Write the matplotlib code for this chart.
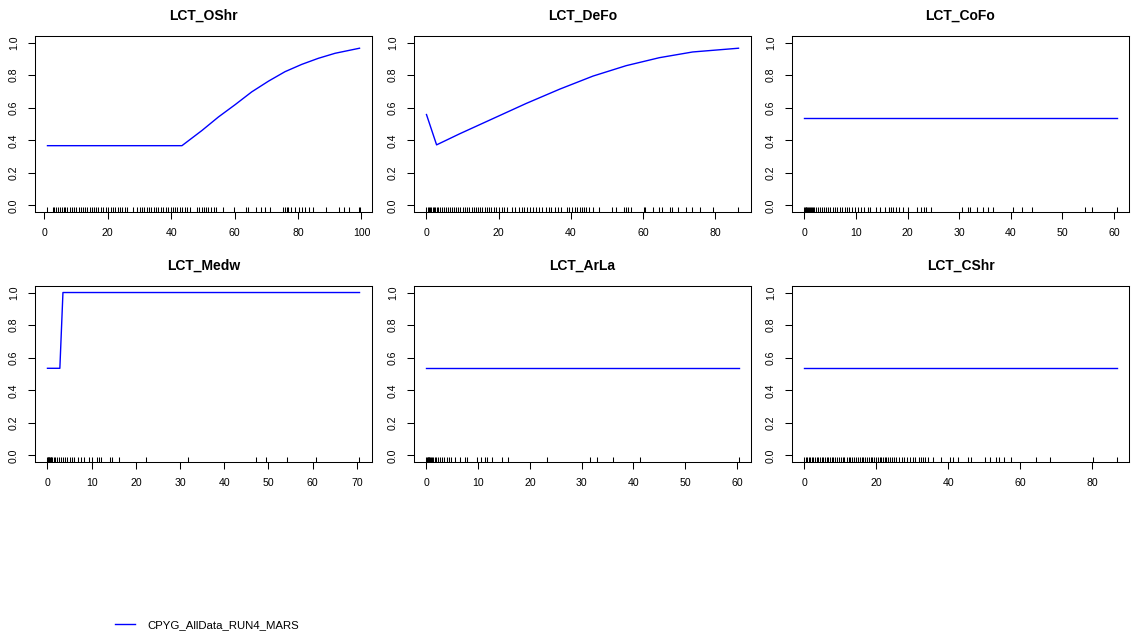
import matplotlib
matplotlib.use("Agg")
import matplotlib.pyplot as plt
import numpy as np

plt.rcParams['font.family'] = ['Liberation Sans', 'DejaVu Sans']

model_name = "CPYG_AllData_RUN4_MARS"

titles = ["LCT_OShr", "LCT_DeFo", "LCT_CoFo", "LCT_Medw", "LCT_ArLa", "LCT_CShr"]

# response curves (predictor value, predicted probability)
oshr_x = [1.0, 43.4, 49.7, 54.9, 60.2, 65.4, 70.7, 75.9, 81.2, 86.4, 91.7, 99.4]
oshr_y = [0.367, 0.367, 0.46, 0.543, 0.619, 0.697, 0.763, 0.821, 0.866, 0.903, 0.934, 0.965]

defo_x = [0.0, 2.8, 9.2, 18.4, 27.6, 36.9, 46.1, 55.3, 64.5, 73.7, 86.4]
defo_y = [0.558, 0.372, 0.44, 0.533, 0.626, 0.714, 0.794, 0.858, 0.907, 0.942, 0.965]

cofo_x = [0.0, 60.5]
cofo_y = [0.535, 0.535]

medw_x = [0.0, 2.8, 3.5, 70.6]
medw_y = [0.535, 0.535, 1.0, 1.0]

arla_x = [0.0, 60.3]
arla_y = [0.535, 0.535]

cshr_x = [0.0, 86.8]
cshr_y = [0.535, 0.535]

# observed predictor values (rug)
oshr_rug = [1.0, 2.6, 3.2, 3.8, 4.4, 5.0, 5.5, 6.1, 6.6, 7.3, 8.0, 8.6, 9.3, 10.0, 10.8,
            11.5, 12.1, 12.8, 13.5, 14.3, 15.0, 15.7, 16.4, 17.0, 17.8, 18.6, 19.3, 20.1,
            21.0, 21.6, 22.4, 23.1, 23.9, 24.6, 25.4, 26.2, 28.0, 29.3, 30.1, 30.8, 31.5,
            32.3, 33.0, 33.8, 34.5, 35.3, 36.0, 36.8, 37.5, 38.3, 39.0, 39.8, 40.6, 41.3,
            42.0, 42.8, 43.5, 44.3, 45.0, 45.8, 48.3, 48.9, 49.6, 50.3, 51.0, 51.7, 52.5,
            53.4, 54.2, 56.3, 59.8, 63.5, 64.2, 66.8, 68.3, 69.5, 71.3, 75.2, 75.8, 76.4,
            77.0, 77.8, 79.0, 80.2, 81.2, 82.3, 83.5, 84.6, 88.8, 93.0, 94.6, 96.2, 99.1, 99.4]
defo_rug = [0.0, 0.3, 0.6, 1.0, 1.3, 1.7, 2.0, 2.4, 2.8, 3.3, 3.8, 4.3, 4.8, 5.4, 6.0, 6.5,
            7.0, 7.6, 8.2, 8.8, 9.4, 10.0, 10.6, 11.2, 11.9, 12.5, 13.1, 13.6, 14.2, 14.8,
            15.4, 16.1, 16.7, 17.3, 18.0, 18.6, 19.3, 20.0, 20.8, 21.5, 22.3, 23.6, 24.5,
            25.5, 26.4, 27.0, 27.8, 28.6, 29.5, 30.3, 31.2, 32.0, 33.0, 33.8, 34.6, 35.5,
            36.3, 37.2, 38.8, 39.5, 40.3, 41.0, 41.8, 42.5, 43.0, 43.6, 44.2, 45.0, 46.2,
            47.8, 51.5, 52.4, 54.6, 55.3, 55.9, 56.5, 60.1, 60.4, 62.6, 64.4, 65.3, 67.3,
            67.9, 69.6, 71.9, 73.6, 75.8, 79.4, 86.3]
cofo_rug = [0.0, 0.1, 0.2, 0.3, 0.5, 0.6, 0.8, 1.0, 1.2, 1.4, 1.6, 1.9, 2.2, 2.6, 3.0, 3.4,
            3.8, 4.2, 4.6, 5.0, 5.5, 6.0, 6.4, 6.8, 7.3, 7.8, 8.2, 8.7, 9.2, 9.7, 10.3, 10.9,
            11.5, 12.3, 12.7, 13.8, 14.6, 15.6, 16.4, 16.8, 17.2, 17.7, 18.4, 19.1, 20.1,
            21.9, 22.6, 23.2, 23.6, 24.6, 30.5, 31.8, 32.1, 33.5, 34.6, 35.6, 36.5, 40.4,
            42.1, 44.2, 54.4, 55.8, 60.5]
medw_rug = [0.0, 0.1, 0.2, 0.3, 0.4, 0.5, 0.7, 0.9, 1.1, 1.4, 1.8, 2.2, 2.6, 3.1, 3.5, 4.0,
            4.5, 5.0, 5.5, 6.1, 6.8, 7.5, 8.3, 9.3, 10.1, 11.2, 11.7, 12.2, 14.2, 14.7,
            16.1, 22.4, 31.9, 47.2, 49.4, 54.3, 60.7, 70.4]
arla_rug = [0.0, 0.1, 0.2, 0.3, 0.4, 0.5, 0.7, 0.9, 1.1, 1.3, 1.6, 1.9, 2.2, 2.6, 3.0, 3.4,
            3.9, 4.3, 4.8, 5.5, 6.5, 7.4, 7.8, 9.7, 10.6, 11.3, 11.7, 12.6, 14.5, 15.8,
            23.2, 31.6, 32.9, 36.0, 41.2, 60.3]
cshr_rug = [0.0, 0.4, 0.8, 1.2, 1.6, 2.0, 2.5, 3.0, 3.4, 3.8, 4.3, 4.8, 5.2, 5.7, 6.2, 6.6,
            7.1, 7.6, 8.0, 8.5, 9.0, 9.6, 10.1, 10.6, 11.1, 11.8, 12.4, 12.8, 13.3, 13.9,
            14.4, 14.9, 15.4, 15.9, 16.4, 16.9, 17.4, 17.9, 18.4, 18.9, 19.4, 19.9, 20.4,
            20.9, 21.4, 21.8, 22.3, 22.8, 23.3, 23.8, 24.4, 25.0, 25.5, 26.2, 27.1, 27.6,
            28.4, 29.3, 30.2, 30.7, 31.9, 32.5, 33.0, 33.6, 34.3, 35.7, 38.0, 40.6, 41.4,
            42.7, 45.6, 46.3, 50.1, 51.6, 53.4, 54.2, 55.6, 57.5, 64.5, 68.3, 80.3, 86.8]

x_ticks = [np.arange(0, 101, 20), np.arange(0, 81, 20), np.arange(0, 61, 10),
           np.arange(0, 71, 10), np.arange(0, 61, 10), np.arange(0, 81, 20)]
y_ticks = [0.0, 0.2, 0.4, 0.6, 0.8, 1.0]

curves = [(oshr_x, oshr_y), (defo_x, defo_y), (cofo_x, cofo_y),
          (medw_x, medw_y), (arla_x, arla_y), (cshr_x, cshr_y)]
rugs = [oshr_rug, defo_rug, cofo_rug, medw_rug, arla_rug, cshr_rug]

W, H = 1136, 633
fig = plt.figure(figsize=(W / 100, H / 100), dpi=100)

lefts = [35, 414, 792]
tops = [36, 286]
box_w, box_h = 337, 176

line_handle = None
for i, title in enumerate(titles):
    r, c = divmod(i, 3)
    ax = fig.add_axes([lefts[c] / W, 1 - (tops[r] + box_h) / H, box_w / W, box_h / H])
    xs, ys = curves[i]
    ln, = ax.plot(xs, ys, color='#0000ff', lw=1.0, solid_joinstyle='round')
    if line_handle is None:
        line_handle = ln
    ax.vlines(rugs[i], 0, 0.03, transform=ax.get_xaxis_transform(),
              color='black', lw=0.75)
    lo, hi = min(xs), max(xs)
    pad = 0.04 * (hi - lo)
    ax.set_xlim(lo - pad, hi + pad)
    ax.set_ylim(-0.04, 1.04)
    ax.set_xticks(x_ticks[i])
    ax.set_xticklabels([str(int(v)) for v in x_ticks[i]])
    ax.set_yticks(y_ticks)
    ax.set_yticklabels([f"{v:.1f}" for v in y_ticks], rotation=90, va='center')
    ax.tick_params(axis='both', direction='out', length=5, width=0.75,
                   labelsize=7.6, pad=6.5)
    for s in ax.spines.values():
        s.set_linewidth(0.75)
    ax.set_title(title, fontsize=10, fontweight='bold', pad=11.5)

fig.legend([line_handle], [model_name], loc='center left',
           bbox_to_anchor=(115 / W, 1 - 625 / H), frameon=False,
           fontsize=8.2, handlelength=1.75, handletextpad=1.05,
           borderpad=0, borderaxespad=0)

fig.savefig("out.png", dpi=100)
